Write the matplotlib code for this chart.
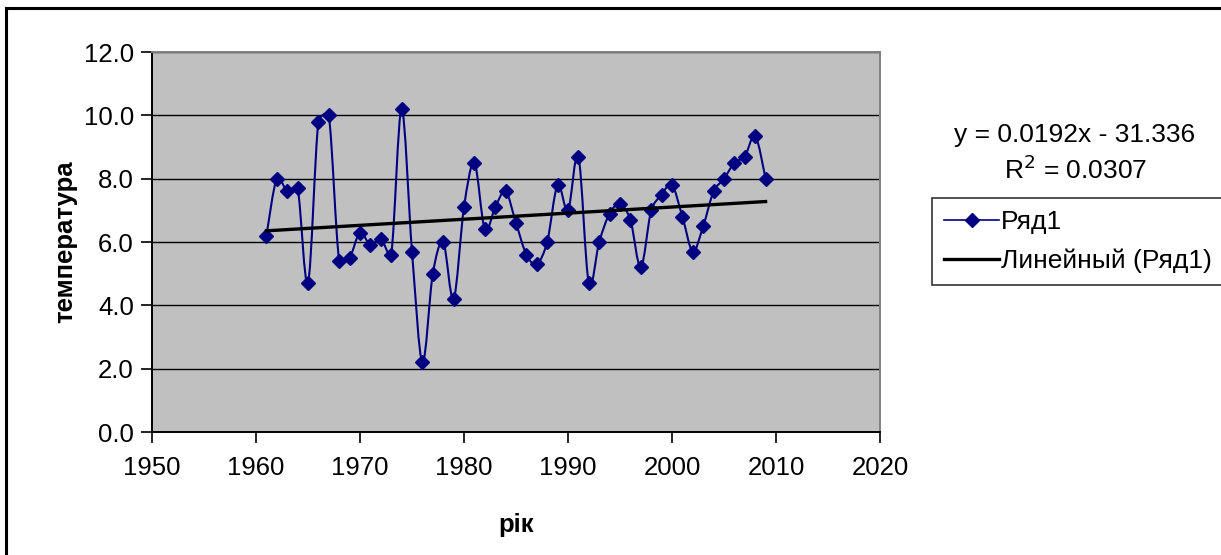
import numpy as np
import matplotlib.pyplot as plt
from matplotlib.path import Path
from matplotlib.patches import PathPatch
from matplotlib.lines import Line2D

plt.rcParams['font.family'] = ['Liberation Sans', 'DejaVu Sans']

# data
years = list(range(1961, 2010))
temps = [6.2, 8.0, 7.6, 7.7, 4.7, 9.8, 10.0, 5.4, 5.5, 6.3,
         5.9, 6.1, 5.6, 10.2, 5.7, 2.2, 5.0, 6.0, 4.2, 7.1,
         8.5, 6.4, 7.1, 7.6, 6.6, 5.6, 5.3, 6.0, 7.8, 7.0,
         8.7, 4.7, 6.0, 6.9, 7.2, 6.7, 5.2, 7.0, 7.5, 7.8,
         6.8, 5.7, 6.5, 7.6, 8.0, 8.5, 8.7, 9.35, 8.0]
series_name = "Ряд1"
trend_name = "Линейный (Ряд1)"
eq_text = "y = 0.0192x - 31.336"
r2_text = "R$^2$ = 0.0307"
x_label = "рік"
y_label = "температура"

navy = "#000080"
W, H = 1221, 555
ax_box = [152, 52, 880, 432]   # plot area in pixels (l, t, r, b)
xlim = (1950, 2020)
ylim = (0, 12)


def smooth_path(xs, ys):
    # excel-style smoothed line: bezier through the points,
    # control arms clamped (in pixel space) so short segments do not overshoot
    sx = (ax_box[2] - ax_box[0]) / (xlim[1] - xlim[0])
    sy = (ax_box[3] - ax_box[1]) / (ylim[1] - ylim[0])
    scale = np.array([sx, sy])
    pts = np.column_stack([xs, ys]).astype(float)
    n = len(pts)
    verts = [pts[0]]
    codes = [Path.MOVETO]
    for i in range(n - 1):
        p0 = pts[i - 1] if i > 0 else pts[i]
        p1 = pts[i]
        p2 = pts[i + 1]
        p3 = pts[i + 2] if i + 2 < n else pts[i + 1]
        seg = np.linalg.norm((p2 - p1) * scale)
        d1 = (p2 - p0) / 6.0
        d2 = (p3 - p1) / 6.0
        for d in (d1, d2):
            ln = np.linalg.norm(d * scale)
            lim = 0.45 * seg
            if ln > lim:
                d *= lim / ln
        verts += [p1 + d1, p2 - d2, p2]
        codes += [Path.CURVE4] * 3
    return Path(verts, codes)


fig = plt.figure(figsize=(W / 100, H / 100), dpi=100)
ax = fig.add_axes([ax_box[0] / W, 1 - ax_box[3] / H,
                   (ax_box[2] - ax_box[0]) / W, (ax_box[3] - ax_box[1]) / H])
ax.set_facecolor("#c0c0c0")

ax.add_patch(PathPatch(smooth_path(years, temps), fill=False,
                       edgecolor=navy, lw=1.5, zorder=3))
ax.plot(years, temps, ls="none", marker="D", ms=6.8, color=navy, zorder=4)

coef = np.polyfit(years, temps, 1)
tx = np.array([years[0], years[-1]])
ax.plot(tx, np.polyval(coef, tx), color="black", lw=2.4, zorder=5)

ax.set_xlim(*xlim)
ax.set_ylim(*ylim)
ax.set_xticks(range(1950, 2021, 10))
ax.set_yticks(np.arange(0, 12.1, 2))
ax.set_yticklabels([f"{v:.1f}" for v in np.arange(0, 12.1, 2)])
ax.yaxis.grid(True, color="black", lw=1.0)
ax.set_axisbelow(True)
ax.tick_params(axis="both", labelsize=18.5, length=8, width=1.2, color="black",
               direction="out")
ax.tick_params(axis="y", pad=5)
ax.tick_params(axis="x", pad=9)
for s in ["left", "bottom"]:
    ax.spines[s].set_color("black")
    ax.spines[s].set_linewidth(1.4)
for s in ["top", "right"]:
    ax.spines[s].set_color("#808080")
    ax.spines[s].set_linewidth(1.4)

ax.set_xlabel(x_label, fontsize=18.5, fontweight="bold", labelpad=24)
ax.set_ylabel(y_label, fontsize=18.5, fontweight="bold", labelpad=5)

fig.text(1075 / W, 1 - 135 / H, eq_text, fontsize=19,
         ha="center", va="center")
fig.text(1076 / W, 1 - 170 / H, r2_text, fontsize=19,
         ha="center", va="center")

handles = [Line2D([], [], color=navy, lw=1.2, marker="D", ms=6.8),
           Line2D([], [], color="black", lw=2.4)]
leg = fig.legend(handles, [series_name, trend_name], loc="upper left",
                 bbox_to_anchor=(932 / W, 1 - 198 / H), fontsize=19,
                 frameon=True, fancybox=False, handlelength=2.1,
                 handletextpad=0.05, borderpad=0.45, labelspacing=0.55,
                 borderaxespad=0)
leg.get_frame().set_edgecolor("black")
leg.get_frame().set_linewidth(1.2)

# outer chart frame (only top and left edges show)
fig.add_artist(Line2D([6 / W, 6 / W], [0, 1 - 8 / H], color="black", lw=2.2))
fig.add_artist(Line2D([6 / W, 1], [1 - 8 / H, 1 - 8 / H], color="black", lw=2.2))

fig.savefig("out.png", dpi=100)
